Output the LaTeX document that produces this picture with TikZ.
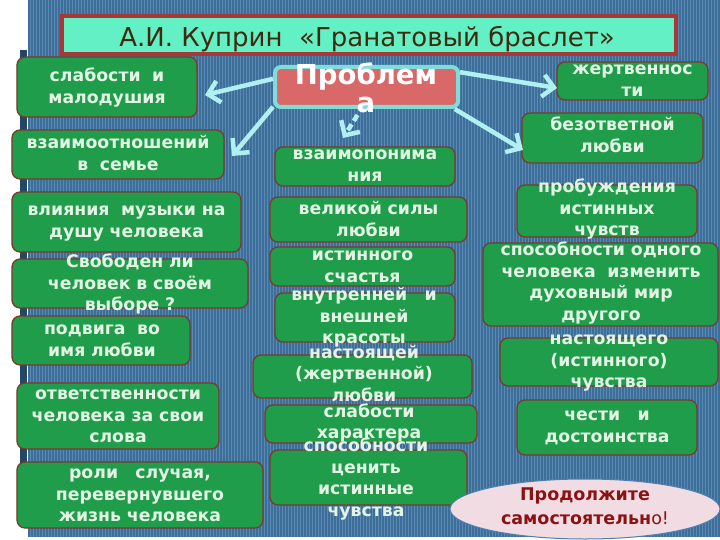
\documentclass[tikz,border=0pt]{standalone}
\usepackage{fontspec}
\setmainfont{DejaVu Sans}
\usetikzlibrary{arrows.meta,shapes.geometric,calc}
\definecolor{bgblue}{HTML}{3C6E99}
\definecolor{stripe}{HTML}{5A89B2}
\definecolor{leftbar}{HTML}{254766}
\definecolor{boxgreen}{HTML}{1F9D4B}
\definecolor{boxedge}{HTML}{7A3A2C}
\definecolor{boxtext}{HTML}{E4F4E4}
\definecolor{titlefill}{HTML}{62F0C4}
\definecolor{titleedge}{HTML}{A83838}
\definecolor{titletext}{HTML}{3E2A10}
\definecolor{probfill}{HTML}{D96868}
\definecolor{probedge}{HTML}{7FDCD8}
\definecolor{arrowc}{HTML}{B0F0F0}
\definecolor{ellfill}{HTML}{F2DCE4}
\definecolor{elledge}{HTML}{4A7FB0}
\definecolor{elltext}{HTML}{8B1212}
\begin{document}
\begin{tikzpicture}[x=1bp,y=-1bp,
  gbox/.style={draw=boxedge, fill=boxgreen, line width=1.3bp, rounded corners=8bp, inner sep=0pt},
  btxt/.style={text=boxtext, font=\bfseries\fontsize{17.3bp}{21.5bp}\selectfont, align=center, text width=300bp, anchor=mid, inner sep=0pt},
  parrow/.style={draw=arrowc, line width=4.5bp, -{Straight Barb[length=11bp,width=22bp]}}
]
\useasboundingbox (0,0) rectangle (720,540);
\fill[white] (0,0) rectangle (720,540);
\fill[bgblue] (28,0) rectangle (720,537);
\foreach \i in {0,...,230} \draw[stripe, line width=0.6bp] ({30+3*\i},0) -- ({30+3*\i},537);
\fill[leftbar] (20,50) rectangle (27,515);

% title
\node[draw=titleedge, fill=titlefill, line width=4bp, minimum width=614bp, minimum height=38bp, inner sep=0pt] (title) at (369,35) {};
\node[text=titletext, font=\fontsize{26bp}{30bp}\selectfont, anchor=base, inner sep=0pt] (titleT) at (367,47) {А.И. Куприн~~«Гранатовый браслет»};

% problem
\node[draw=probedge, fill=probfill, line width=4bp, rounded corners=6bp, minimum width=183bp, minimum height=40bp, inner sep=0pt] (prob) at (366.5,87) {};
\node[text=white, font=\bfseries\fontsize{27.5bp}{28bp}\selectfont, align=center, text width=300bp, anchor=base, inner sep=0pt] (probT) at (366,85) {Проблем\\а};

% left column
\node[gbox, minimum width=180bp, minimum height=60bp] (b1) at (107,87) {};
\node[btxt] (b1T) at (107,79) {слабости~~и\\малодушия};
\node[gbox, minimum width=212bp, minimum height=49bp] (b2) at (118,154.5) {};
\node[btxt] (b2T) at (118,146) {взаимоотношений\\в~~семье};
\node[gbox, minimum width=229bp, minimum height=60bp] (b3) at (126.5,222) {};
\node[btxt] (b3T) at (126.5,213) {влияния~~музыки на\\душу человека};
\node[gbox, minimum width=236bp, minimum height=49bp] (b4) at (130,283.5) {};
\node[btxt] (b4T) at (130,265) {Свободен ли\\человек в своём\\выборе ?};
\node[gbox, minimum width=178bp, minimum height=49bp] (b5) at (101,340.5) {};
\node[btxt] (b5T) at (102,332) {подвига~~во\\имя любви};
\node[gbox, minimum width=202bp, minimum height=66bp] (b6) at (118,416) {};
\node[btxt] (b6T) at (118,397) {ответственности\\человека за свои\\слова};
\node[gbox, minimum width=246bp, minimum height=66bp] (b7) at (140,495) {};
\node[btxt] (b7T) at (140,476) {роли~~~случая,\\перевернувшего\\жизнь человека};

% center column
\node[gbox, minimum width=180bp, minimum height=39bp] (c1) at (365,166.5) {};
\node[btxt] (c1T) at (365,157) {взаимопонима\\ния};
\node[gbox, minimum width=197bp, minimum height=45bp] (c2) at (368.5,219.5) {};
\node[btxt] (c2T) at (368.5,212) {великой силы\\любви};
\node[gbox, minimum width=185bp, minimum height=39bp] (c3) at (362.5,266.5) {};
\node[btxt] (c3T) at (362.5,258) {истинного\\счастья};
\node[gbox, minimum width=180bp, minimum height=49bp] (c4) at (365,317.5) {};
\node[btxt] (c4T) at (364,298) {внутренней~~~и\\внешней\\красоты};
\node[gbox, minimum width=219bp, minimum height=43bp] (c5) at (362.5,376.5) {};
\node[btxt] (c5T) at (364,355.5) {настоящей\\(жертвенной)\\любви};
\node[gbox, minimum width=212bp, minimum height=38bp] (c6) at (371,424) {};
\node[btxt] (c6T) at (369,414.5) {слабости\\характера};
\node[gbox, minimum width=197bp, minimum height=55bp] (c7) at (368.5,477.5) {};
\node[btxt] (c7T) at (366,449) {способности\\ценить\\истинные\\чувства};

% right column
\node[gbox, minimum width=151bp, minimum height=38bp] (r1) at (632.5,81) {};
\node[btxt] (r1T) at (632.5,72) {жертвеннос\\ти};
\node[gbox, minimum width=181bp, minimum height=50bp] (r2) at (612.5,138) {};
\node[btxt] (r2T) at (612.5,128) {безответной\\любви};
\node[gbox, minimum width=180bp, minimum height=52bp] (r3) at (607,211) {};
\node[btxt] (r3T) at (607,190) {пробуждения\\истинных\\чувств};
\node[gbox, minimum width=235bp, minimum height=83bp] (r4) at (600.5,284.5) {};
\node[btxt] (r4T) at (601,253) {способности одного\\человека~~изменить\\духовный мир\\другого};
\node[gbox, minimum width=218bp, minimum height=48bp] (r5) at (609,362) {};
\node[btxt] (r5T) at (609,342) {настоящего\\(истинного)\\чувства};
\node[gbox, minimum width=180bp, minimum height=55bp] (r6) at (607,427.5) {};
\node[btxt] (r6T) at (607,418) {чести~~~и\\достоинства};

% ellipse
\node[ellipse, draw=elledge, fill=ellfill, line width=1bp, minimum width=270bp, minimum height=60bp, inner sep=0pt] (cont) at (585,509) {};
\node[text=elltext, font=\bfseries\fontsize{17.5bp}{24bp}\selectfont, align=center, text width=300bp, anchor=mid, inner sep=0pt] (contT) at (585,498) {Продолжите\\самостоятельн{\mdseries о!}};

% arrows
\coordinate (t1) at (205,95);
\coordinate (t2) at (232,156);
\coordinate (t3) at (343,138);
\coordinate (t4) at (557,88);
\coordinate (t5) at (523,150);
\draw[parrow] (prob.175) -- (t1);
\draw[parrow] (prob.192) -- (t2);
\draw[parrow, dash pattern=on 7bp off 4bp] ($(prob.south)+(-9,6)$) -- (t3);
\draw[parrow] (prob.9) -- (t4);
\draw[parrow] (prob.-14) -- (t5);
\end{tikzpicture}
\end{document}
